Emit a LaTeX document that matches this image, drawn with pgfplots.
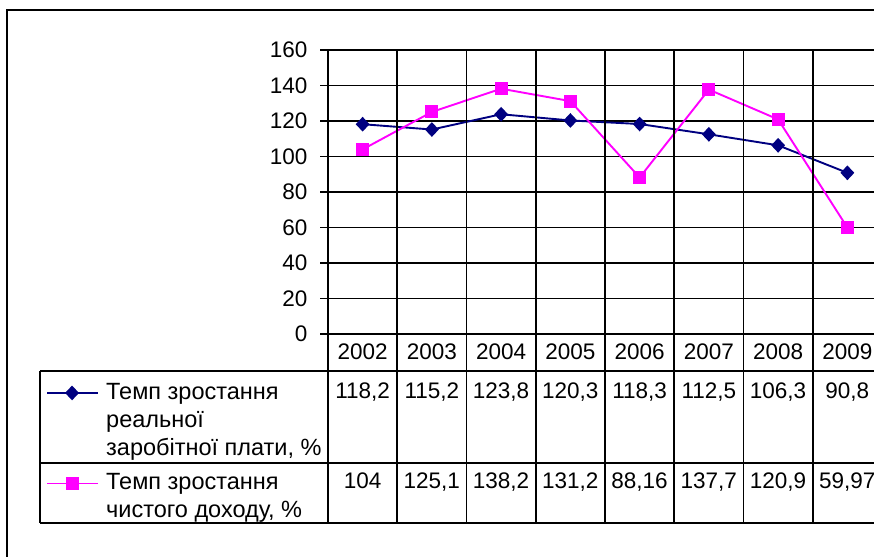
\documentclass[border=0pt]{standalone}
\usepackage{pgfplots}
\pgfplotsset{compat=1.18}
\usepackage{fontspec}
\setmainfont{Liberation Sans}
\definecolor{navyc}{RGB}{0,0,128}
\definecolor{magc}{RGB}{255,0,255}
\begin{document}
\fontsize{22.5}{27}\selectfont
\begin{tikzpicture}[x=1pt,y=1pt]
\useasboundingbox (0,0) rectangle (874,-556);
\clip (0,0) rectangle (874,-556);
\draw[line width=2pt] (7,-10) rectangle (1000,-700);
\begin{axis}[at={(328pt,-334pt)}, anchor=south west, scale only axis,
  width=554pt, height=284pt,
  xmin=-0.5, xmax=7.5, ymin=0, ymax=160,
  ytick={0,20,...,160}, xtick=\empty,
  ymajorgrids, grid style={black, line width=1.9pt},
  axis line style={black, line width=1.9pt},
  tick style={black, line width=1.9pt}, tick align=outside,
  major tick length=8pt, clip=false,
  yticklabel style={font=\fontsize{22.5}{26}\selectfont, xshift=-5pt},
  /pgf/number format/assume math mode=true]
\addplot[navyc, line width=1.9pt, mark=diamond*, mark size=6pt,
  mark options={solid, fill=navyc, xscale=1.25}]
  coordinates {(0,118.2) (1,115.2) (2,123.8) (3,120.3) (4,118.3) (5,112.5) (6,106.3) (7,90.8)};
\addplot[magc, line width=1.9pt, mark=square*, mark size=5.5pt,
  mark options={solid, fill=magc}]
  coordinates {(0,104) (1,125.1) (2,138.2) (3,131.2) (4,88.16) (5,137.7) (6,120.9) (7,59.97)};
% legend keys in the data table
\addplot[navyc, line width=1.9pt, mark=diamond*, mark size=6pt, mark indices={2},
  mark options={solid, fill=navyc, xscale=1.25}]
  coordinates {(-4.556,-33.2) (-4.196,-33.2) (-3.820,-33.2)};
\addplot[magc, line width=1.9pt, mark=square*, mark size=5.5pt, mark indices={2},
  mark options={solid, fill=magc}]
  coordinates {(-4.556,-84.2) (-4.196,-84.2) (-3.820,-84.2)};
\end{axis}
% data table grid
\begin{scope}[line width=1.9pt, black]
\foreach \k in {0,...,8} {
  \draw ({328+69.25*\k},-50) -- ({328+69.25*\k},-523);
}
\draw (40,-371) -- (1000,-371);
\draw (40,-463) -- (1000,-463);
\draw (40,-523) -- (1000,-523);
\draw (40,-371) -- (40,-523);
\end{scope}
% years
\foreach \y [count=\i from 0] in {2002,2003,2004,2005,2006,2007,2008,2009} {
  \node[anchor=base, inner sep=0pt] at ({362.6+69.25*\i},-359) {\y};
}
\foreach \v [count=\i from 0] in {118{,}2,115{,}2,123{,}8,120{,}3,118{,}3,112{,}5,106{,}3,90{,}8} {
  \node[anchor=base, inner sep=0pt] at ({362.6+69.25*\i},-398) {\v};
}
\foreach \v [count=\i from 0] in {104,125{,}1,138{,}2,131{,}2,88{,}16,137{,}7,120{,}9,59{,}97} {
  \node[anchor=base, inner sep=0pt] at ({362.6+69.25*\i},-488) {\v};
}
\begin{scope}[every node/.style={anchor=base west, inner sep=0pt, font=\fontsize{23.5}{27}\selectfont}]
\node at (106,-399) {Темп зростання};
\node at (106,-427) {реальної};
\node at (106,-455) {заробітної плати, \%};
\node at (106,-489) {Темп зростання};
\node at (106,-517) {чистого доходу, \%};
\end{scope}
\end{tikzpicture}
\end{document}
